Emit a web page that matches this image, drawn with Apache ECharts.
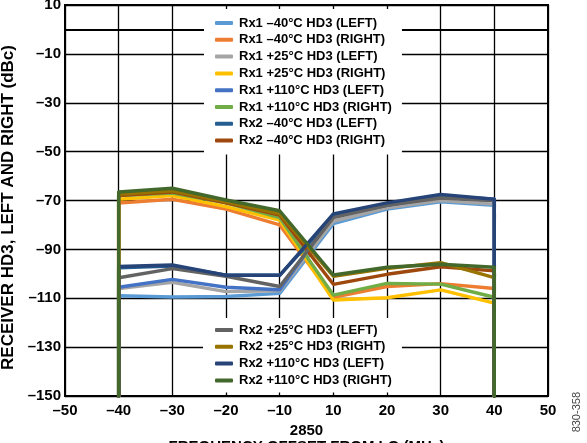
<!DOCTYPE html>
<html><head><meta charset="utf-8">
<script src="https://cdn.jsdelivr.net/npm/echarts@6/dist/echarts.min.js"></script>
<style>html,body{margin:0;padding:0;background:#fff}#c{width:587px;height:443px}</style>
</head><body><div id="c"></div>
<script>
// x-axis tick labels (categories)
var categories = ['–50','–40','–30','–20','–10','10','20','30','40','50'];
// measured offsets (MHz from LO)
var offsets = ['–40','–30','–20','–10','10','20','30','40'];
// value the traces drop to beyond the band edges
var dropValue = -150;
var yTicks = {min: -150, max: 10, interval: 20};

var seriesNames = [
  'Rx1 –40°C HD3 (LEFT)','Rx1 –40°C HD3 (RIGHT)',
  'Rx1 +25°C HD3 (LEFT)','Rx1 +25°C HD3 (RIGHT)',
  'Rx1 +110°C HD3 (LEFT)','Rx1 +110°C HD3 (RIGHT)',
  'Rx2 –40°C HD3 (LEFT)','Rx2 –40°C HD3 (RIGHT)',
  'Rx2 +25°C HD3 (LEFT)','Rx2 +25°C HD3 (RIGHT)',
  'Rx2 +110°C HD3 (LEFT)','Rx2 +110°C HD3 (RIGHT)'
];
var rx1m40L  = [-109, -109.5, -109.3, -108, -79.5, -73.5, -70.5, -72];
var rx1m40R  = [-71, -69.5, -73.5, -80, -109.6, -105.2, -104, -106];
var rx1p25L  = [-106, -103.5, -107.3, -107, -78.5, -73, -70, -71.5];
var rx1p25R  = [-69.5, -68, -72.5, -78, -110.7, -109.8, -106.6, -112];
var rx1p110L = [-105.5, -102.3, -105.5, -106.5, -76, -71.5, -68, -69.5];
var rx1p110R = [-68, -67, -71, -77, -108.7, -103.9, -104.2, -109.6];
var rx2m40L  = [-97.5, -96.8, -100.6, -100.6, -76.5, -72, -68.5, -70];
var rx2m40R  = [-68, -66.5, -71, -76, -104.3, -100.2, -97.1, -98.8];
var rx2p25L  = [-101.6, -97.9, -101, -105.2, -77, -72, -69, -70];
var rx2p25R  = [-67.5, -66, -70.5, -75.5, -101, -97.8, -95.4, -101.6];
var rx2p110L = [-97, -96.4, -100.6, -100.6, -75.5, -71, -67.5, -69.5];
var rx2p110R = [-66.5, -65, -69.8, -74.2, -100.5, -97.3, -96.1, -97.3];
var seriesValues = [rx1m40L, rx1m40R, rx1p25L, rx1p25R, rx1p110L, rx1p110R,
                    rx2m40L, rx2m40R, rx2p25L, rx2p25R, rx2p110L, rx2p110R];
var colors = ['#5B9BD5','#ED7D31','#A5A5A5','#FFC000','#4472C4','#70AD47',
              '#255E91','#9E480E','#636363','#997300','#264478','#43682B'];

var FONT = '"Liberation Sans", Arial, sans-serif';

function buildData(vals) {
  var d = [];
  var first = categories.indexOf(offsets[0]);
  var last = categories.indexOf(offsets[offsets.length - 1]);
  d.push([first, dropValue]);
  for (var i = 0; i < offsets.length; i++) d.push([categories.indexOf(offsets[i]), vals[i]]);
  d.push([last, dropValue]);
  return d;
}

var series = seriesNames.map(function (n, i) {
  return {
    name: n, type: 'line', data: buildData(seriesValues[i]),
    showSymbol: false, symbol: 'none', smooth: false,
    lineStyle: {width: 3.4, color: colors[i], join: 'round', cap: 'round'},
    itemStyle: {color: colors[i]}, z: 2 + i * 0.01
  };
});

var legendCommon = {
  orient: 'vertical', left: 204, backgroundColor: '#fff',
  icon: 'roundRect', itemWidth: 18, itemHeight: 4, itemGap: 2.8,
  padding: [7, 10, 7, 11],
  textStyle: {fontFamily: FONT, fontWeight: 'bold', fontSize: 13, color: '#000', lineHeight: 14, padding: [0,0,0,1]},
  z: 10
};

var chart = echarts.init(document.getElementById('c'), null, {renderer: 'canvas'});
chart.setOption({
  animation: false,
  color: colors,
  grid: {left: 65, right: 39, top: 5, bottom: 47, outerBoundsMode: 'none', containLabel: false,
         show: true, borderColor: '#000', borderWidth: 2, backgroundColor: 'transparent'},
  legend: [
    Object.assign({}, legendCommon, {top: 9, data: seriesNames.slice(0, 8)}),
    Object.assign({}, legendCommon, {top: 318, left: 203, padding: [5, 10, 5, 12], data: seriesNames.slice(8)})
  ],
  xAxis: {
    type: 'category', data: categories, boundaryGap: false,
    axisLine: {show: true, lineStyle: {color: '#000', width: 2}},
    axisTick: {show: false},
    axisLabel: {interval: 0, fontFamily: FONT, fontWeight: 'bold', fontSize: 15, color: '#000', margin: 7},
    splitLine: {show: true, interval: 0, lineStyle: {color: '#000', width: 1.3}},
    name: '2850\nFREQUENCY OFFSET FROM LO (MHz)', nameLocation: 'middle', nameGap: 18,
    nameTextStyle: {fontFamily: FONT, fontWeight: 'bold', fontSize: 15, color: '#000', lineHeight: 16}
  },
  yAxis: {
    type: 'value', min: yTicks.min, max: yTicks.max, interval: yTicks.interval,
    axisLine: {show: true, lineStyle: {color: '#000', width: 2}},
    axisTick: {show: false},
    axisLabel: {fontFamily: FONT, fontWeight: 'bold', fontSize: 15, color: '#000', margin: 4,
      formatter: function (v) { return String(v).replace('-', '–'); }},
    splitLine: {show: true, lineStyle: {color: '#000', width: 1.3}},
    name: 'RECEIVER HD3, LEFT AND RIGHT (dBc)', nameLocation: 'middle', nameGap: 41,
    nameTextStyle: {fontFamily: FONT, fontWeight: 'bold', fontSize: 17, color: '#000', padding: [0, 14, 0, 0]}
  },
  graphic: [{
    type: 'text', x: 577, y: 392, rotation: Math.PI / 2,
    style: {text: '830-358', font: '11px ' + FONT, fill: '#444', align: 'right', verticalAlign: 'middle'}
  }],
  series: series
});
</script>
</body></html>
